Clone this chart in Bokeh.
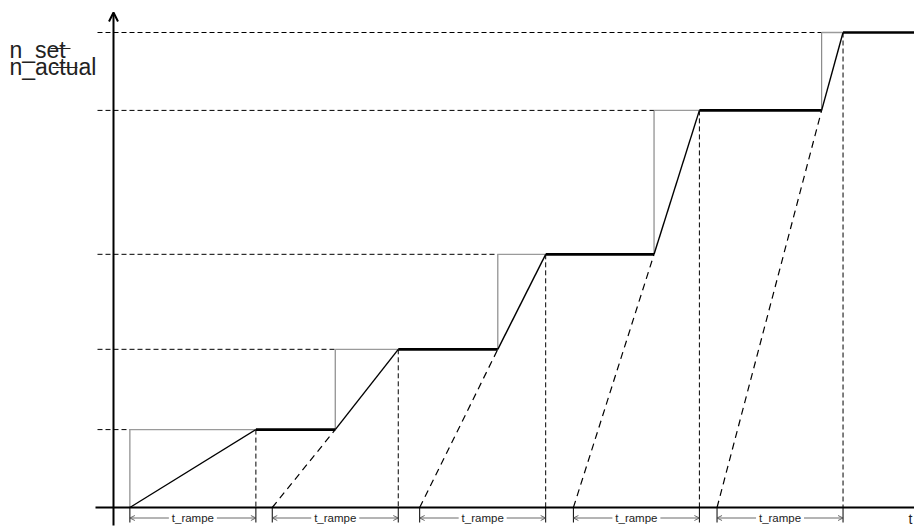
from bokeh.plotting import figure
from bokeh.models import Range1d, Arrow, OpenHead, Label, ColumnDataSource
from bokeh.core.properties import value
from bokeh.embed import file_html
from bokeh.resources import INLINE

# ---- data (time in units of t_rampe, speed in % of top set value) ----
levels = [16.4, 33.3, 53.3, 83.6, 100.0]          # n_set steps
set_times = [0.13, 1.76, 3.05, 4.29, 5.62]        # moments n_set changes
reach_times = [1.13, 2.26, 3.43, 4.65, 5.79]      # n_actual reaches n_set
ramp_starts = [0.13, 1.26, 2.43, 3.65, 4.79]      # virtual ramp start from 0
ramp_label = "t_rampe"
y_label_set = "n_set"
y_label_actual = "n_actual"
x_label = "t"

prev = [0.0] + levels[:-1]

# canvas-pixel helpers for layout (decorations only)
X0, XU, Y0, YU = 113.0, 126.0, 507.0, 4.75
def tx(px):
    return (px - X0) / XU
def vy(py):
    return (Y0 - py) / YU

W, H = 914, 530
p = figure(width=W, height=H, output_backend="svg", toolbar_location=None,
           x_range=Range1d(tx(0), tx(W)), y_range=Range1d(vy(H), vy(0)),
           x_axis_type=None, y_axis_type=None, min_border=0,
           outline_line_color=None, background_fill_color="white")
p.grid.visible = False

FONT = value("Liberation Sans")
x_left = tx(97)
y_bottom = vy(522)

# dashed reference lines for each level
p.segment(x0=[x_left] * len(levels), y0=levels, x1=set_times, y1=levels,
          line_color="black", line_width=1, line_dash="5 3")
# dashed verticals where n_actual reaches n_set
p.segment(x0=reach_times, y0=levels, x1=reach_times, y1=[0] * len(levels),
          line_color="black", line_width=1, line_dash="5 3")
# ticks below the time axis
tick_x = ramp_starts + reach_times
p.segment(x0=tick_x, y0=[0] * len(tick_x), x1=tick_x, y1=[y_bottom] * len(tick_x),
          line_color="black", line_width=1)

# n_set (gray steps)
p.segment(x0=set_times, y0=prev, x1=set_times, y1=levels,
          line_color="#8a8a8a", line_width=1.2)
p.segment(x0=set_times, y0=levels, x1=reach_times, y1=levels,
          line_color="#9a9a9a", line_width=1.4)

# dashed extrapolation of ramps back to zero
p.segment(x0=ramp_starts[1:], y0=[0] * 4, x1=set_times[1:], y1=prev[1:],
          line_color="black", line_width=1.2, line_dash="7 5")

# n_actual ramps
p.segment(x0=set_times, y0=prev, x1=reach_times, y1=levels,
          line_color="black", line_width=1.4)
# n_actual flat parts
flat_end = set_times[1:] + [tx(W + 5)]
p.segment(x0=reach_times, y0=levels, x1=flat_end, y1=levels,
          line_color="black", line_width=2.6)

# axes
p.segment(x0=[tx(95)], y0=[0], x1=[tx(W + 5)], y1=[0],
          line_color="black", line_width=2.2)
p.add_layout(Arrow(end=OpenHead(size=9, line_width=2, line_color="black"),
                   x_start=0, y_start=vy(525), x_end=0, y_end=vy(12),
                   line_width=2, line_color="black"))

# t_rampe dimension arrows
half = 24.0 / XU
mids = [(a + b) / 2 for a, b in zip(ramp_starts, reach_times)]
ya = vy(517.5)
left_src = ColumnDataSource(dict(xs=[m - half for m in mids], xe=ramp_starts,
                                 y=[ya] * len(mids)))
right_src = ColumnDataSource(dict(xs=[m + half for m in mids], xe=reach_times,
                                  y=[ya] * len(mids)))
for src in (left_src, right_src):
    p.add_layout(Arrow(end=OpenHead(size=5, line_width=0.8, line_color="#444"),
                       x_start="xs", y_start="y", x_end="xe", y_end="y",
                       line_width=0.8, line_color="#444", source=src))
p.text(x=mids, y=[vy(517)] * len(mids), text=[ramp_label] * len(mids),
       text_font=FONT, text_font_size="11.5px", text_align="center",
       text_baseline="middle", text_color="#222")

# labels
p.add_layout(Label(x=tx(9), y=vy(49), text=y_label_set, text_font="Liberation Sans",
                   text_font_size="23px", text_baseline="alphabetic", text_color="#222"))
p.add_layout(Label(x=tx(9), y=vy(66), text=y_label_actual, text_font="Liberation Sans",
                   text_font_size="23px", text_baseline="alphabetic", text_color="#222"))
p.segment(x0=[tx(50), tx(52)], y0=[vy(48), vy(67)], x1=[tx(70), tx(77)], y1=[vy(48), vy(67)],
          line_color="#222", line_width=1.2)
p.add_layout(Label(x=tx(910), y=vy(518), text=x_label, text_font="Liberation Sans",
                   text_font_size="14px", text_align="center", text_baseline="middle",
                   text_color="#222"))

open("out.html", "w").write(file_html(p, INLINE))
